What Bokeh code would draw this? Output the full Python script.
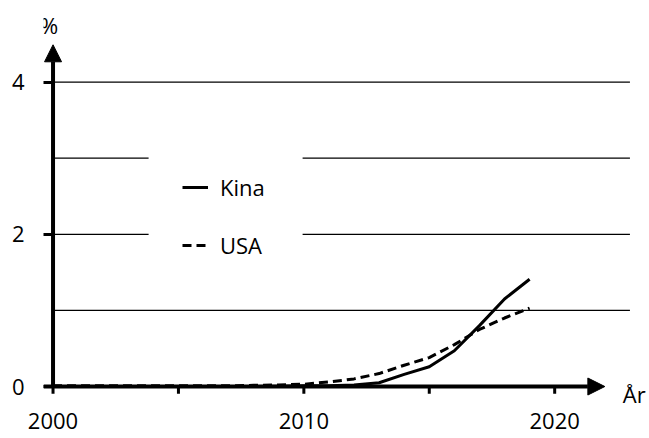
from bokeh.plotting import figure
from bokeh.models import (Range1d, Arrow, NormalHead, Label, Legend, LegendItem,
                          FixedTicker, ColumnDataSource, BoxAnnotation)
from bokeh.embed import file_html
from bokeh.resources import INLINE

# ---- data ----
years = list(range(2000, 2020))
kina = [0.0, 0.0, 0.0, 0.0, 0.0, 0.0, 0.0, 0.0, 0.0, 0.005,
        0.01, 0.01, 0.02, 0.05, 0.16, 0.26, 0.47, 0.80, 1.15, 1.41]
usa = [0.01, 0.01, 0.01, 0.01, 0.01, 0.01, 0.01, 0.01, 0.015, 0.02,
       0.03, 0.06, 0.10, 0.17, 0.28, 0.38, 0.55, 0.75, 0.90, 1.03]
grid_levels = [1, 2, 3, 4]
y_ticks = [0, 2, 4]
x_ticks = [2000, 2005, 2010, 2015, 2020]
x_tick_labels = {2000: "2000", 2005: "", 2010: "2010", 2015: "", 2020: "2020"}
series_names = ["Kina", "USA"]
y_unit = "%"
x_unit = "År"

FONT = "Open Sans"
FS = "22px"

p = figure(width=649, height=438, output_backend="svg", toolbar_location=None,
           x_range=Range1d(1999.62, 2023.78), y_range=Range1d(-0.302, 5.072),
           min_border_left=43, min_border_right=0, min_border_top=0,
           min_border_bottom=29)
p.xgrid.visible = False
p.ygrid.visible = False
p.outline_line_color = None
p.background_fill_color = "white"
p.border_fill_color = "white"

# left axis
ya = p.yaxis[0]
ya.ticker = FixedTicker(ticks=y_ticks)
ya.axis_line_color = None
ya.major_tick_in = 10
ya.major_tick_out = 0
ya.major_tick_line_width = 3
ya.major_tick_line_color = "black"
ya.minor_tick_line_color = None
ya.major_label_standoff = 19
ya.major_label_text_font = FONT
ya.major_label_text_font_size = FS
ya.major_label_text_color = "black"

# bottom axis (labels only; tick marks drawn at y = 0 below)
xa = p.xaxis[0]
xa.ticker = FixedTicker(ticks=x_ticks)
xa.major_label_overrides = x_tick_labels
xa.axis_line_color = None
xa.major_tick_in = 0
xa.major_tick_out = 0
xa.minor_tick_line_color = None
xa.major_label_standoff = 3
xa.major_label_text_font = FONT
xa.major_label_text_font_size = FS
xa.major_label_text_color = "black"

# gridlines
gsrc = ColumnDataSource(dict(y=grid_levels))
p.segment(x0=2000, y0="y", x1=2023.0, y1="y", source=gsrc,
          line_color="black", line_width=1.3)

# x tick marks hanging below the x axis line
tsrc = ColumnDataSource(dict(x=x_ticks))
p.segment(x0="x", y0=0, x1="x", y1=-0.095, source=tsrc,
          line_color="black", line_width=3)

# series
r_kina = p.line(years, kina, line_color="black", line_width=3)
r_usa = p.line(years, usa, line_color="black", line_width=3, line_dash="9 5")

# white legend panel (interrupts gridlines)
p.add_layout(BoxAnnotation(left=2003.81, right=2009.95, bottom=1.5, top=3.5,
                           fill_color="white", fill_alpha=1.0, line_color=None))

# axis arrows
p.add_layout(Arrow(end=NormalHead(size=17, fill_color="black", line_color="black"),
                   x_start=2000, y_start=0, x_end=2000, y_end=4.49,
                   line_color="black", line_width=4))
p.add_layout(Arrow(end=NormalHead(size=17, fill_color="black", line_color="black"),
                   x_start=1999.62, y_start=0, x_end=2022.0, y_end=0,
                   line_color="black", line_width=4))

# axis unit labels
p.add_layout(Label(x=2000, y=4.75, text=y_unit, text_align="center",
                   text_baseline="middle", x_offset=-4, text_font=FONT,
                   text_font_size=FS, text_color="black"))
p.add_layout(Label(x=2022.0, y=0, text=x_unit, text_align="left",
                   text_baseline="middle", x_offset=18, y_offset=-7,
                   text_font=FONT, text_font_size=FS, text_color="black"))

legend = Legend(items=[LegendItem(label=series_names[0], renderers=[r_kina]),
                       LegendItem(label=series_names[1], renderers=[r_usa])],
                location=(139, 149), padding=0, spacing=28, margin=0,
                glyph_width=26, glyph_height=20, label_height=20,
                label_width=48, label_standoff=12,
                label_text_font=FONT, label_text_font_size=FS,
                label_text_color="black",
                border_line_color=None, background_fill_color="white",
                background_fill_alpha=0.0)
p.add_layout(legend)

open("out.html", "w").write(file_html(p, INLINE))
